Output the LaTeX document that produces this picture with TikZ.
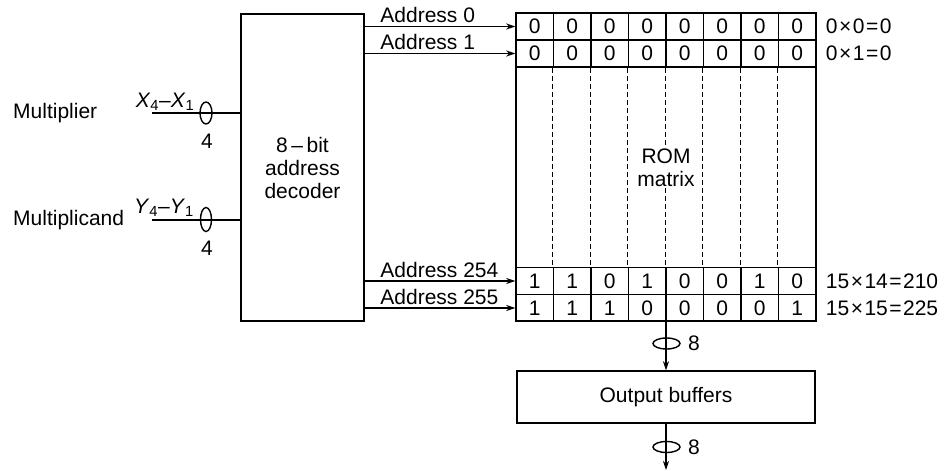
\documentclass[tikz,border=0pt]{standalone}
\usepackage{fontspec}
\setmainfont{Liberation Sans}
\usetikzlibrary{positioning,arrows.meta}

\newcommand{\opsp}[1]{\kern1.5pt#1\kern1.5pt}

\tikzset{
  blk/.style={draw, line width=1.4pt, align=center, inner sep=0pt},
  cell/.style={draw, line width=1.4pt, minimum width=37.5pt, minimum height=27pt, inner sep=0pt},
  feed/.style={-{Stealth[length=9pt,width=6pt]}, line width=1.4pt},
  bus/.style={line width=1.4pt},
  colsep/.style={line width=1.1pt, dash pattern=on 5pt off 3pt},
  lbl/.style={inner sep=0pt},
}

\begin{document}
\begin{tikzpicture}[x=1pt, y=-1pt, font=\fontsize{21}{23}\selectfont]
\useasboundingbox (0,0) rectangle (945,471);

% decoder
\node[blk, minimum width=123pt, minimum height=307pt] (dec) at (302.5,167.5) {8\,–\,bit\\address\\decoder};

% ROM frame, rows and cells
\node[blk, minimum width=300pt, minimum height=308pt] (rom) at (666,167) {};
\foreach \r/\y/\bits in {0/26.5/{0,0,0,0,0,0,0,0}, 1/53.5/{0,0,0,0,0,0,0,0},
    254/281/{1,1,0,1,0,0,1,0}, 255/308/{1,1,1,0,0,0,0,1}}
  \foreach \d [count=\i from 0] in \bits
    \node[cell] (c\r-\i) at ({534.75+37.5*\i},\y) {\d};
\foreach \i in {1,...,7}
  \draw[colsep] (c1-\i.south west) -- (c254-\i.north west);
\node[fill=white, align=center, inner sep=1pt] (romtxt) at (666,168) {ROM\\matrix};

% address lines
\foreach \r in {0,1,254,255}
  \draw[feed] (dec.east |- c\r-0.west) -- node[lbl, pos=0.1, anchor=south west, yshift=3pt] (a\r) {Address \r} (c\r-0.west);

% products
\foreach \r/\t in {0/0\opsp{×}0\opsp{=}0, 1/0\opsp{×}1\opsp{=}0,
    254/15\opsp{×}14\opsp{=}210, 255/15\opsp{×}15\opsp{=}225}
  \node[lbl, anchor=west, xshift=9pt] (p\r) at (c\r-7.east) {\t};

% inputs
\node[lbl, anchor=west] (mplr) at (13,113) {Multiplier};
\node[lbl, anchor=west] (mcnd) at (13,220) {Multiplicand};
\coordinate (xin) at (152,113);
\coordinate (yin) at (152,220);
\draw[bus] (xin) -- (xin -| dec.west);
\draw[bus] (yin) -- (yin -| dec.west);
\node[lbl, anchor=base] (xlbl) at (165,107) {\textit{X}\textsubscript{4}–\textit{X}\textsubscript{1}};
\node[lbl, anchor=base] (ylbl) at (164,213) {\textit{Y}\textsubscript{4}–\textit{Y}\textsubscript{1}};
\draw[bus] (206,113) ellipse [x radius=6, y radius=11];
\draw[bus] (206,219.5) ellipse [x radius=5.5, y radius=12];
\node[lbl] (xw) at (207,141) {4};
\node[lbl] (yw) at (207,248) {4};

% output
\node[blk, minimum width=298pt, minimum height=52pt] (buf) at (666,397) {Output buffers};
\coordinate (out) at (666,470);
\draw[feed] (rom.south) -- (buf.north);
\draw[feed] (buf.south) -- (out);
\draw[bus] (666.5,343.5) ellipse [x radius=13.5, y radius=5.5];
\draw[bus] (666.5,447) ellipse [x radius=13.5, y radius=5.5];
\node[lbl] (ow1) at (694,343) {8};
\node[lbl] (ow2) at (694,447) {8};
\end{tikzpicture}
\end{document}
